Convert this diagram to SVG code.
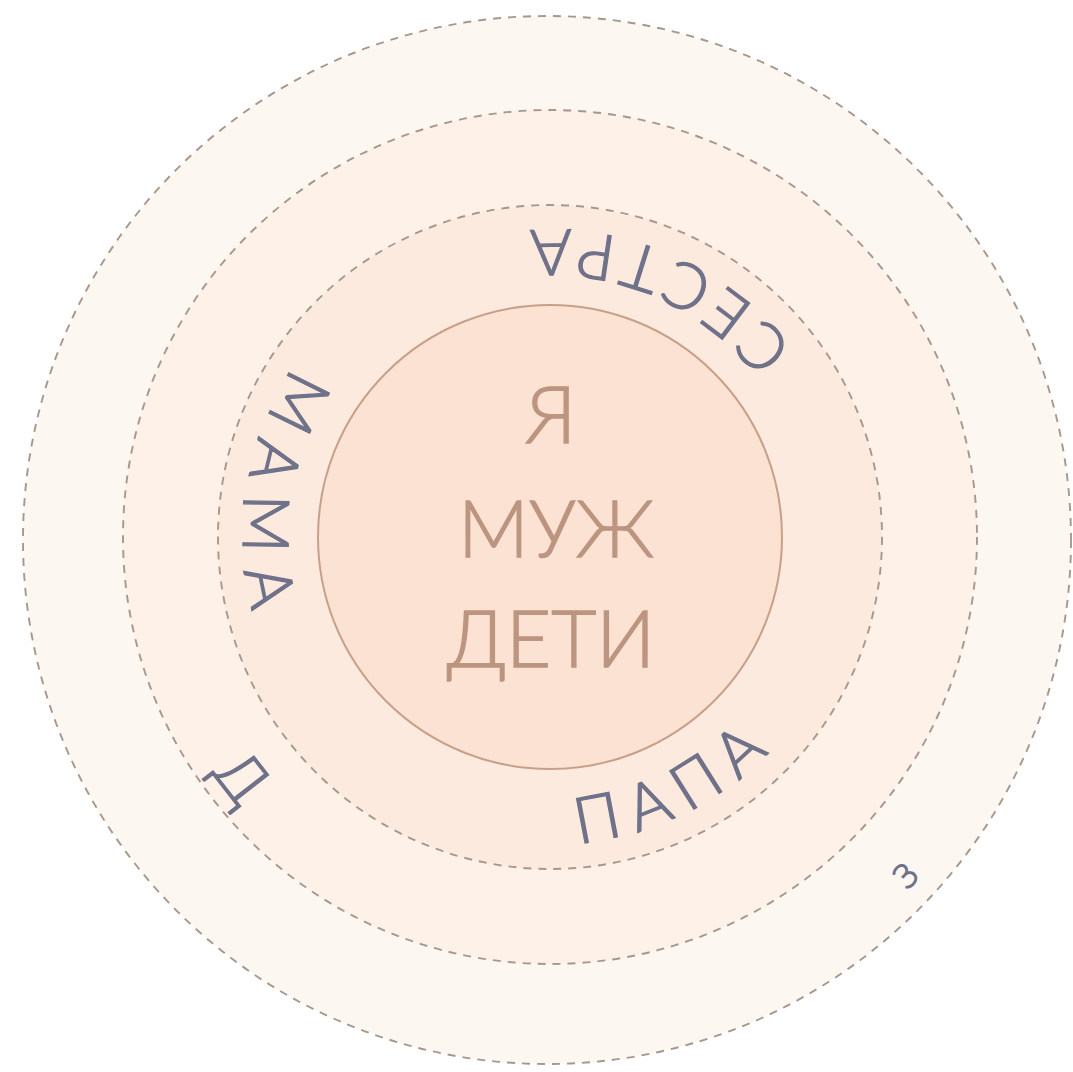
<svg xmlns="http://www.w3.org/2000/svg" width="1073" height="1072" viewBox="0 0 1073 1072">
  <style>
    .ring { stroke: #a8978d; stroke-width: 1.9; stroke-dasharray: 8 7; }
    .lbl { font-family: Lato, "Open Sans", "Noto Sans", sans-serif; font-weight: 300; fill: #6f7289; stroke: #6f7289; stroke-width: 1.3; }
    .core { font-family: Lato, "Open Sans", "Noto Sans", sans-serif; font-weight: 300; fill: #bc9581; stroke: #bc9581; stroke-width: 1.3; font-size: 78px; text-anchor: middle; }
  </style>
  <defs>
    <path id="pSestra" d="M854.7,499.6 A307,307 0 0 0 365.2,291.8"/>
    <path id="pMama" d="M435.0,252.4 A307,307 0 0 0 361.0,778.9"/>
    <path id="pPapa" d="M381.0,793.3 A307,307 0 0 0 856.5,555.2"/>
    <path id="pD" d="M142.0,594.3 A412,412 0 0 0 395.7,919.0"/>
    <path id="pZ" d="M773.6,987.5 A503,503 0 0 0 1010.9,738.4"/>
  </defs>
  <rect width="1073" height="1072" fill="#ffffff"/>
  <g id="ring-outer">
    <circle class="ring" cx="547" cy="540" r="524" fill="#fdf7f2"/>
    <text class="lbl" font-size="34" text-anchor="middle"><textPath href="#pZ" startOffset="50%">З</textPath></text>
  </g>
  <g id="ring-middle">
    <circle class="ring" cx="550" cy="537" r="427" fill="#fdf1e8"/>
    <text class="lbl" font-size="62" text-anchor="middle"><textPath href="#pD" startOffset="50%">Д</textPath></text>
  </g>
  <g id="ring-inner">
    <circle class="ring" cx="550" cy="537" r="332" fill="#fdeadf"/>
    <text class="lbl" font-size="64" text-anchor="middle" letter-spacing="13"><textPath href="#pSestra" startOffset="50%">СЕСТРА</textPath></text>
    <text class="lbl" font-size="64" text-anchor="middle" letter-spacing="18"><textPath href="#pMama" startOffset="50%">МАМА</textPath></text>
    <text class="lbl" font-size="64" text-anchor="middle" letter-spacing="13"><textPath href="#pPapa" startOffset="50%">ПАПА</textPath></text>
  </g>
  <g id="core">
    <circle cx="550" cy="537" r="232" fill="#fce2d2" stroke="#c7a08a" stroke-width="2"/>
    <text class="core" x="551" y="443">Я</text>
    <text class="core" x="556" y="557">МУЖ</text>
    <text class="core" x="551" y="667">ДЕТИ</text>
  </g>
</svg>
